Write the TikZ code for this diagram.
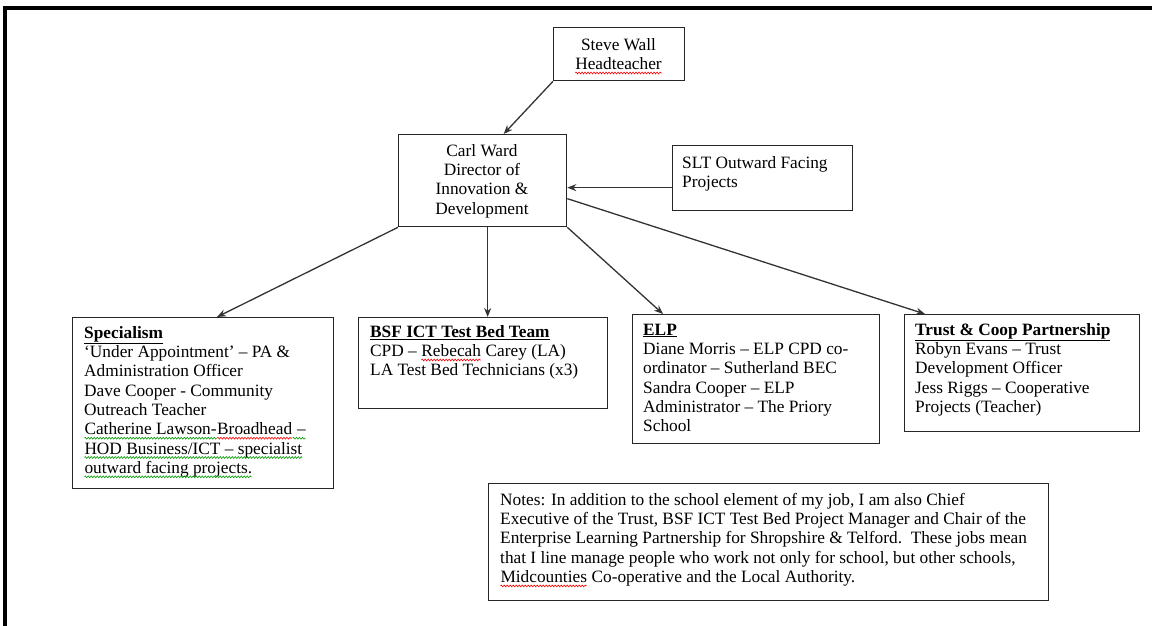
\documentclass[tikz,border=0pt]{standalone}
\usepackage{fontspec}
\setmainfont{Liberation Serif}
\usetikzlibrary{arrows.meta,calc,decorations.pathmorphing}
\newcommand\wavy[2]{\tikz[baseline=(w.base),x=1pt,y=1pt]{\node[inner sep=0pt,outer sep=0pt,anchor=base west] (w) at (0,0) {#2};\draw[#1,line width=0.6pt,decorate,decoration={zigzag,amplitude=0.9pt,segment length=3pt}] ([yshift=-3.5pt]w.base west) -- ([yshift=-3.5pt]w.base east);}}
\colorlet{spellgreen}{green!60!black}
\begin{document}
\begin{tikzpicture}[x=1pt,y=-1pt,
  box/.style={draw=black!85, line width=1.3pt, inner sep=0pt, anchor=north west},
  txt/.style={anchor=north west, inner sep=0pt, align=left, font=\fontsize{17.3}{19.3}\selectfont},
  ctxt/.style={anchor=north, inner sep=0pt, align=center, font=\fontsize{17.3}{19.3}\selectfont},
  conn/.style={draw=black!80, line width=1.3pt, -{Stealth[length=9pt,width=7pt]}}]
\useasboundingbox (0,0) rectangle (1152,626);
\draw[line width=3.5pt] (5,626) -- (5,8) -- (1152,8);

\node[box, minimum width=131pt, minimum height=53pt] (steve) at (553,27) {};
\node[ctxt] (stevet) at (618.5,36.5) {\strut Steve Wall\\\wavy{red}{Headteacher}};

\node[box, minimum width=168pt, minimum height=92pt] (carl) at (398,134) {};
\node[ctxt] (carlt) at (482,142.5) {\strut Carl Ward\\Director of\\Innovation \&\\Development};

\node[box, minimum width=180pt, minimum height=65pt] (slt) at (672,145) {};
\node[txt] (sltt) at (682,154.5) {\strut SLT Outward Facing\\Projects};

\node[box, minimum width=261pt, minimum height=171pt] (spec) at (72,317) {};
\node[txt] (spect) at (84,324.5) {\strut\underline{\textbf{Specialism}}\\
‘Under Appointment’ – PA \&\\
Administration Officer\\
Dave Cooper - Community\\
Outreach Teacher\\
\wavy{spellgreen}{Catherine Lawson-}\wavy{red}{Broadhead}\wavy{spellgreen}{\ –}\\
\wavy{spellgreen}{HOD Business/ICT – specialist}\\
\wavy{spellgreen}{outward facing projects.}};

\node[box, minimum width=249pt, minimum height=91pt] (bsf) at (358,317) {};
\node[txt] (bsft) at (370,323.5) {\strut\underline{\textbf{BSF ICT Test Bed Team}}\\
CPD – \wavy{red}{Rebecah} Carey (LA)\\
LA Test Bed Technicians (x3)};

\node[box, minimum width=247pt, minimum height=129pt] (elp) at (632,314) {};
\node[txt] (elpt) at (643,321.5) {\strut\underline{\textbf{ELP}}\\
Diane Morris – ELP CPD co-\\
ordinator – Sutherland BEC\\
Sandra Cooper – ELP\\
Administrator – The Priory\\
School};

\node[box, minimum width=235pt, minimum height=117pt] (trust) at (904,314) {};
\node[txt] (trustt) at (915,321.5) {\strut\underline{\textbf{Trust \& Coop Partnership}}\\
Robyn Evans – Trust\\
Development Officer\\
Jess Riggs – Cooperative\\
Projects (Teacher)};

\node[box, minimum width=560pt, minimum height=117pt] (notes) at (488,483) {};
\node[txt] (notest) at (500,491.5) {\strut Notes: In addition to the school element of my job, I am also Chief\\
Executive of the Trust, BSF ICT Test Bed Project Manager and Chair of the\\
Enterprise Learning Partnership for Shropshire \& Telford.\ \ These jobs mean\\
that I line manage people who work not only for school, but other schools,\\
\wavy{red}{Midcounties} Co-operative and the Local Authority.};

\path ($(carl.south)+(5,0)$) coordinate (cs);
\draw[conn] (steve.south west) -- ($(carl.north)+(21,0)$);
\draw[conn] ($(slt.west)+(0,9.5)$) -- ($(carl.east)+(0,7)$);
\draw[conn] (carl.south west) -- ($(spec.north west)+(145,0)$);
\draw[conn] (cs) -- (cs |- bsf.north);
\draw[conn] (carl.south east) -- ($(elp.north west)+(31,0)$);
\draw[conn] ($(carl.east)+(0,18)$) -- ($(trust.north west)+(21,0)$);
\end{tikzpicture}
\end{document}
